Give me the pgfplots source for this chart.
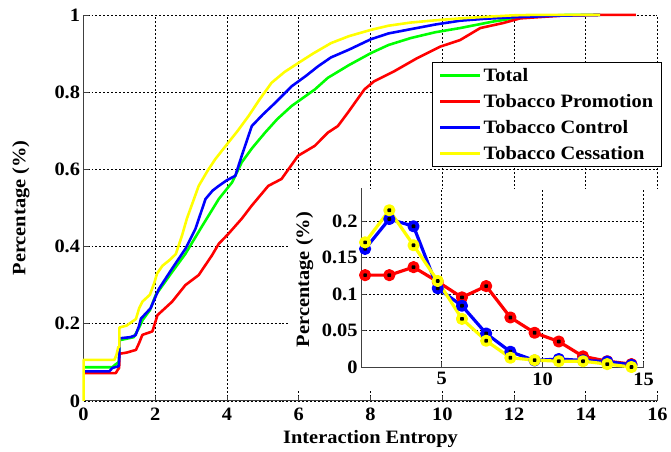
\documentclass[border=0pt]{standalone}
\usepackage{fontspec}
\setmainfont{Liberation Serif}[FakeStretch=1.08]
\usepackage{pgfplots}
\usepackage{pgfplotstable}
\pgfplotsset{compat=1.18}
\usetikzlibrary{calc}

\definecolor{cgreen}{RGB}{0,255,0}
\definecolor{cred}{RGB}{255,0,0}
\definecolor{cblue}{RGB}{0,0,255}
\definecolor{cyellow}{RGB}{255,255,0}

\newcommand{\lbl}{\fontsize{19}{21}\selectfont\bfseries}

% inset: share of messages per entropy bin
\pgfplotstableread{
x     red     blue    yellow
1.2   0.126   0.162   0.171
2.4   0.126   0.203   0.215
3.6   0.137   0.193   0.167
4.8   0.117   0.108   0.118
6.0   0.0955  0.084   0.066
7.2   0.111   0.046   0.036
8.4   0.068   0.021   0.0127
9.6   0.047   0.009   0.0095
10.8  0.035   0.011   0.008
12.0  0.0146  0.009   0.008
13.2  0.008   0.0075  0.004
14.4  0.004   0.003   0.0
}\insetdata

\pgfplotsset{
  mystyle/.style={
    scale only axis,
    axis lines=left,
    axis line style={-, black!75, line width=1pt},
    tick align=inside,
    major tick length=5pt,
    tick style={black!75, line width=0.8pt},
    grid=major,
    grid style={black, dash pattern=on 2pt off 2pt, line width=0.6pt},
    tick label style={font=\lbl},
    label style={font=\lbl},
    /pgf/number format/assume math mode=true,
    /pgf/number format/fixed,
    scaled ticks=false,
    clip=false,
  }
}

\begin{document}
\begin{tikzpicture}
\begin{axis}[
  mystyle,
  name=main,
  at={(0,0)}, anchor=south west,
  width=577pt, height=388pt,
  xmin=0, xmax=16, ymin=0, ymax=1,
  xtick={0,2,4,6,8,10,12,14,16},
  ytick={0,0.2,0.4,0.6,0.8,1},
  xticklabel style={yshift=-4pt},
  xlabel={Interaction Entropy},
  ylabel={Percentage (\%)},
  xlabel style={at={(axis description cs:0.5,-0.1)}, anchor=center},
  ylabel style={at={(axis description cs:-0.109,0.5)}, anchor=center},
  legend style={at={(rel axis cs:1.007,0.879)}, anchor=north east,
    draw=black, line width=0.8pt, font=\lbl, row sep=7.5pt,
    inner xsep=6pt, inner ysep=4pt},
  legend cell align=left,
  legend image code/.code={\draw[#1, line width=3pt] (0pt,0pt) -- (40pt,0pt);},
  every axis plot/.append style={line width=2.6pt, line join=round},
]
% white background behind the inset
\fill[white] (axis cs:5.71,0.026) rectangle (axis cs:16.15,0.549);

\addplot[cgreen] coordinates {
(0,0.087) (0.8,0.087) (0.9,0.095) (0.98,0.1) (1.0,0.13) (1.0,0.157) (1.4,0.165)
(1.55,0.19) (1.65,0.21) (1.85,0.235) (2.01,0.274) (2.47,0.334) (2.84,0.381)
(3.3,0.452) (3.77,0.523) (4.14,0.566) (4.41,0.618) (4.7,0.655) (5.06,0.695)
(5.4,0.73) (5.8,0.764) (6.45,0.807) (6.81,0.837) (7.4,0.87) (8.01,0.901)
(8.5,0.922) (9.12,0.94) (9.8,0.955) (10.5,0.966) (11.43,0.983) (12.35,0.996)
(13.5,1) (14.4,1)};
\addlegendentry{Total}

\addplot[cred] coordinates {
(0,0.072) (0.9,0.072) (0.95,0.08) (0.99,0.085) (1.0,0.1) (1.0,0.122) (1.2,0.125)
(1.46,0.132) (1.55,0.15) (1.64,0.171) (1.92,0.18) (2.06,0.222) (2.47,0.257)
(2.84,0.3) (3.21,0.326) (3.58,0.377) (3.77,0.407) (4.04,0.433) (4.41,0.472)
(4.69,0.506) (5.15,0.557) (5.52,0.575) (5.98,0.635) (6.45,0.661) (6.81,0.695)
(7.09,0.712) (7.37,0.747) (7.83,0.807) (8.1,0.828) (8.66,0.854) (9.3,0.888)
(9.95,0.918) (10.5,0.935) (11.06,0.966) (11.7,0.979) (12.17,0.991) (13.3,0.998)
(14.4,1) (15.4,1)};
\addlegendentry{Tobacco Promotion}

\addplot[cblue] coordinates {
(0,0.0765) (0.72,0.0765) (0.8,0.085) (0.98,0.09) (1.0,0.12) (1.0,0.162) (1.3,0.165)
(1.45,0.17) (1.55,0.195) (1.6,0.213) (1.87,0.24) (2.1,0.29) (2.47,0.343)
(2.84,0.394) (3.12,0.446) (3.4,0.523) (3.6,0.545) (3.77,0.557) (4.0,0.572)
(4.23,0.583) (4.41,0.635) (4.69,0.712) (5.0,0.742) (5.34,0.772) (5.8,0.815)
(6.2,0.842) (6.54,0.867) (6.9,0.89) (7.4,0.91) (8.01,0.937) (8.5,0.952)
(9.12,0.963) (9.8,0.975) (10.5,0.985) (11.2,0.99) (12,0.994) (13.3,0.998) (14.4,1)};
\addlegendentry{Tobacco Control}

\addplot[cyellow] coordinates {
(0,0) (0,0.106) (0.86,0.106) (0.92,0.12) (0.97,0.14) (1.0,0.14) (1.0,0.19)
(1.2,0.195) (1.46,0.212) (1.55,0.24) (1.64,0.257) (1.85,0.275) (1.97,0.305)
(2.05,0.33) (2.2,0.35) (2.4,0.365) (2.57,0.38) (2.75,0.43) (2.88,0.472)
(3.21,0.557) (3.45,0.595) (3.67,0.626) (4.0,0.665) (4.3,0.70) (4.6,0.738)
(4.9,0.78) (5.24,0.824) (5.6,0.852) (5.98,0.875) (6.4,0.90) (6.9,0.927)
(7.4,0.945) (8.0,0.961) (8.5,0.972) (9.1,0.98) (9.8,0.986) (10.5,0.991)
(11.2,0.995) (12,0.999) (12.5,1) (14.4,1)};
\addlegendentry{Tobacco Cessation}
\end{axis}

\begin{axis}[
  mystyle,
  at={($(main.south west)+(279pt,34pt)$)}, anchor=south west,
  width=284pt, height=179.6pt,
  xmin=1, xmax=15, ymin=0, ymax=0.245,
  xtick={5,10,15},
  ytick={0,0.05,0.1,0.15,0.2},
  xticklabel style={yshift=-2pt},
  ylabel={Percentage (\%)},
  ylabel style={at={(axis description cs:-0.2,0.49)}, anchor=center},
  every axis plot/.append style={line width=3.2pt, mark=*, mark size=4.5pt, line join=round},
  dot/.style={only marks, mark=*, mark size=0.7pt, black, mark options={fill=black}},
]
\addplot[cred, mark options={fill=cred}] table[x=x, y=red] {\insetdata};
\addplot[dot] table[x=x, y=red] {\insetdata};
\addplot[cblue, mark options={fill=cblue}] table[x=x, y=blue] {\insetdata};
\addplot[dot] table[x=x, y=blue] {\insetdata};
\addplot[cyellow, mark options={fill=cyellow}] table[x=x, y=yellow] {\insetdata};
\addplot[dot] table[x=x, y=yellow] {\insetdata};
\end{axis}
\path ($(main.south west)+(-84pt,-51pt)$) rectangle ++(671pt,454pt);
\end{tikzpicture}
\end{document}
